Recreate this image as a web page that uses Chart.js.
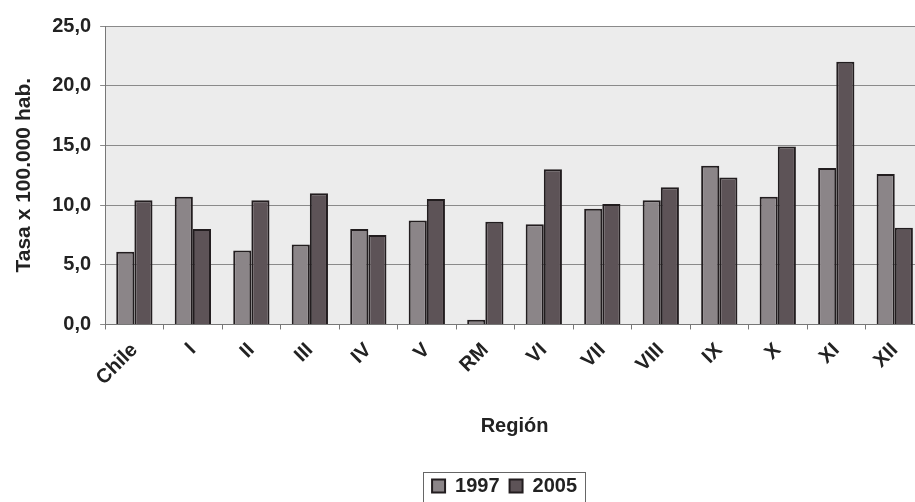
<!DOCTYPE html>
<html>
<head>
<meta charset="utf-8">
<script src="https://cdn.jsdelivr.net/npm/chart.js@4/dist/chart.umd.min.js"></script>
<style>
html,body{margin:0;padding:0;background:#fff;overflow:hidden;width:915px;height:502px;}
#wrap{position:absolute;left:0;top:0;width:935px;height:502px;}
</style>
</head>
<body>
<div id="wrap"><canvas id="c" width="935" height="502"></canvas></div>
<script>
const categories = ["Chile","I","II","III","IV","V","RM","VI","VII","VIII","IX","X","XI","XII"];
const values1997 = [6.1,10.7,6.2,6.7,8.0,8.7,0.4,8.4,9.7,10.4,13.3,10.7,13.1,12.6];
const values2005 = [10.4,8.0,10.4,11.0,7.5,10.5,8.6,13.0,10.1,11.5,12.3,14.9,22.0,8.1];
const seriesLabels = ["1997","2005"];
const yTicks = [0,5,10,15,20,25];

const FONT = "'Liberation Sans', Arial, sans-serif";

const bgPlugin = {
  id: 'bg',
  afterLayout(chart) {
    const lg = chart.legend, a = chart.chartArea;
    if (!lg || !a) return;
    const target = (a.left + a.right) / 2 - 10;
    const cur = (lg.left + lg.right) / 2;
    const d = target - cur;
    lg.left += d; lg.right += d;
    lg.top += 4; lg.bottom += 4;
  },
  beforeDraw(chart) {
    const {ctx, chartArea:a} = chart;
    ctx.save();
    ctx.fillStyle = '#ececec';
    ctx.fillRect(a.left, a.top, a.right - a.left, a.bottom - a.top);
    ctx.restore();
  },
  afterDraw(chart) {
    const lg = chart.legend;
    if (!lg) return;
    const ctx = chart.ctx;
    ctx.save();
    ctx.strokeStyle = '#666';
    ctx.lineWidth = 1;
    const boxes = lg.legendHitBoxes;
    if (boxes && boxes.length) {
      let l = Infinity, r = -Infinity, t = Infinity, b = -Infinity;
      boxes.forEach(h => { l = Math.min(l, h.left); r = Math.max(r, h.left + h.width); t = Math.min(t, h.top); b = Math.max(b, h.top + h.height); });
      ctx.strokeRect(Math.round(l - 9) + 0.5, Math.round(t - 4) + 0.5, Math.round(r - l + 17), Math.round(b - t + 12));
    }
    ctx.restore();
  }
};

new Chart(document.getElementById('c'), {
  type: 'bar',
  data: {
    labels: categories,
    datasets: [
      { label: seriesLabels[0], data: values1997, backgroundColor: '#8b8588', borderColor: '#221d1f', borderWidth: 2, categoryPercentage: 0.62, barPercentage: 1.0 },
      { label: seriesLabels[1], data: values2005, backgroundColor: '#5d5357', borderColor: '#221d1f', borderWidth: 2, categoryPercentage: 0.62, barPercentage: 1.0 }
    ]
  },
  options: {
    responsive: false,
    animation: false,
    devicePixelRatio: 1,
    layout: { padding: { top: 26, left: 12, right: 11, bottom: 0 } },
    plugins: {
      legend: {
        position: 'bottom',
        labels: {
          font: { family: FONT, size: 20, weight: 'bold' },
          color: '#222',
          boxWidth: 13, boxHeight: 13,
          padding: 10
        }
      },
      tooltip: { enabled: false }
    },
    scales: {
      x: {
        grid: { display: true, drawOnChartArea: false, drawTicks: true, tickLength: 5, color: '#777', offset: true },
        border: { display: true, color: '#777', width: 1 },
        ticks: { maxRotation: 45, minRotation: 45, autoSkip: false, font: { family: FONT, size: 20, weight: 'bold' }, color: '#222', padding: 9 },
        title: { display: true, text: 'Región', font: { family: FONT, size: 20, weight: 'bold' }, color: '#222', padding: { top: 15, bottom: 24 } }
      },
      y: {
        min: 0, max: 25,
        afterBuildTicks(scale) { scale.ticks = yTicks.map(v => ({ value: v })); },
        grid: { color: '#8a8a8a', lineWidth: 1, drawTicks: true, tickLength: 5 },
        border: { display: true, color: '#777' },
        ticks: {
          font: { family: FONT, size: 20, weight: 'bold' }, color: '#222', padding: 9,
          callback: v => v.toFixed(1).replace('.', ',')
        },
        title: { display: true, text: 'Tasa x 100.000 hab.', font: { family: FONT, size: 21, weight: 'bold' }, color: '#222', padding: { top: 0, bottom: 6 } }
      }
    }
  },
  plugins: [bgPlugin]
});
</script>
</body>
</html>
